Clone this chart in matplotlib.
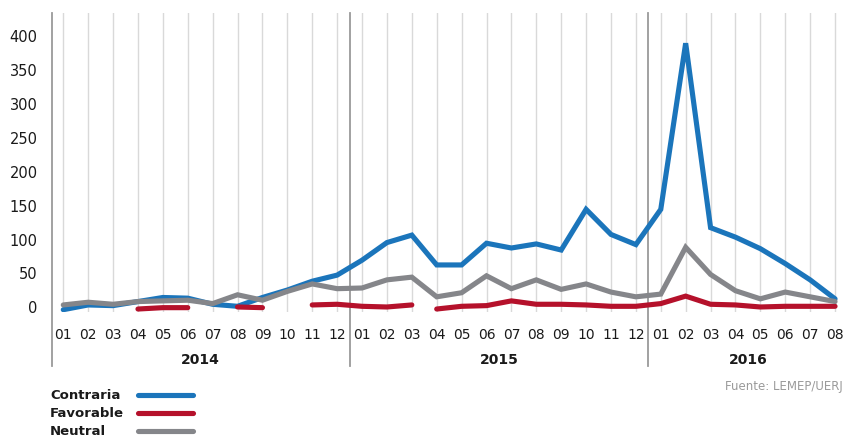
"""Opinion trend chart: Contraria / Favorable / Neutral by month, 2014-2016."""

import matplotlib

matplotlib.use("Agg")
import matplotlib.pyplot as plt
import numpy as np
from matplotlib.lines import Line2D

YEARS = ["2014", "2015", "2016"]
MONTHS_PER_YEAR = [12, 12, 8]
MONTH_LABELS = [f"{m:02d}" for n in MONTHS_PER_YEAR for m in range(1, n + 1)]

contraria = [-5, 2, 1, 7, 13, 12, 3, 0, 13, 24, 37, 46,
             68, 94, 105, 61, 61, 93, 86, 92, 83, 143, 106, 91,
             143, 388, 116, 102, 85, 63, 39, 11]
favorable = [None, None, None, -4, -2, -2, None, -1, -2, None, 2, 3,
             0, -1, 2, -4, 0, 1, 8, 3, 3, 2, 0, 0,
             4, 15, 3, 2, -1, 0, 0, 0]
# the published line is also broken between these two months
favorable_breaks = [15]
neutral = [2, 6, 3, 7, 8, 9, 4, 17, 9, 22, 33, 26,
           27, 39, 43, 14, 20, 45, 26, 39, 25, 33, 21, 14,
           18, 87, 47, 23, 11, 21, 14, 7]

SERIES = [
    ("Contraria", contraria, "#1b75bb"),
    ("Favorable", favorable, "#b5112b"),
    ("Neutral", neutral, "#85868a"),
]

W, H = 845, 439


def runs(values, breaks):
    """Split a series with gaps into contiguous (x, y) runs."""
    out, cur = [], []
    for i, v in enumerate(values):
        if v is None or i in breaks:
            if len(cur) > 1:
                out.append(cur)
            cur = []
        if v is not None:
            cur.append((i, v))
    if len(cur) > 1:
        out.append(cur)
    return out


fig = plt.figure(figsize=(W / 100, H / 100), dpi=100)
ax_left, ax_top, ax_bottom = 51.7, 14, 313
ax = fig.add_axes([ax_left / W, (H - ax_bottom) / H,
                   (W - ax_left) / W, (ax_bottom - ax_top) / H])

x = np.arange(len(MONTH_LABELS))
for name, values, color in SERIES:
    brk = favorable_breaks if name == "Favorable" else []
    for seg in runs(values, brk):
        sx, sy = zip(*seg)
        ax.plot(sx, sy, color=color, lw=3.7, solid_capstyle="round",
                solid_joinstyle="miter", zorder=3)

ax.set_xlim(-0.465, 31.4)
ax.set_ylim(-8.4, 432.6)
for s in ax.spines.values():
    s.set_visible(False)

ax.set_xticks(x)
ax.set_xticklabels(MONTH_LABELS, fontsize=10, color="#1a1a1a")
ax.set_yticks(np.arange(0, 401, 50))
ax.tick_params(axis="both", length=0)
ax.tick_params(axis="x", pad=11)
ax.tick_params(axis="y", pad=10, labelsize=10.5, labelcolor="#1a1a1a")
ax.grid(axis="x", color="#d9d9d9", lw=1)
ax.set_axisbelow(True)

# left axis line and year separators run down through the label area
sep_color = "#9a9a9a"
ax.plot([0, 0], [-0.18, 1], transform=ax.transAxes, color=sep_color,
        lw=1.3, clip_on=False)
starts = np.cumsum([0] + MONTHS_PER_YEAR)
for b in starts[1:-1]:
    ax.axvline(b - 0.5, ymin=-0.18, ymax=1, color=sep_color, lw=1.3,
               clip_on=False)
for year, a, b in zip(YEARS, starts[:-1], starts[1:]):
    ax.text((a + b - 1) / 2, -0.157, year, transform=ax.get_xaxis_transform(),
            ha="center", va="center", fontsize=10, fontweight="bold",
            color="#1a1a1a")

# legend
for i, (name, _, color) in enumerate(SERIES):
    yc = 1 - (396 + 18 * i) / H
    fig.text(50 / W, yc, name, ha="left", va="center", fontsize=9.5,
             fontweight="bold", color="#1a1a1a")
    fig.add_artist(Line2D([138 / W, 193 / W], [yc, yc], color=color, lw=3.7,
                          solid_capstyle="round", transform=fig.transFigure))

fig.text(843 / W, 1 - 387 / H, "Fuente: LEMEP/UERJ", ha="right", va="center",
         fontsize=8.5, color="#9a9a9a")

fig.savefig("out.png", dpi=100)
